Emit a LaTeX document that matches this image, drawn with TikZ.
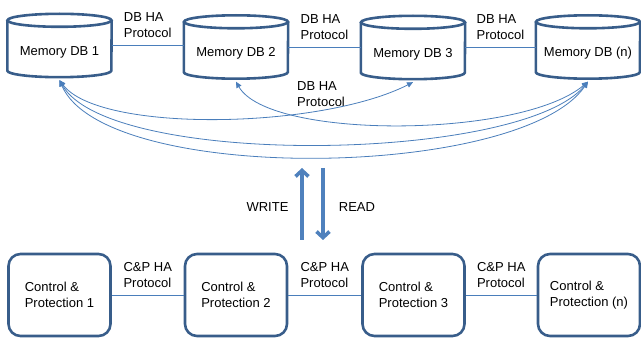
\documentclass[tikz,border=0pt]{standalone}
\usepackage{fontspec}
\setmainfont{Liberation Sans}
\usetikzlibrary{arrows.meta}

\definecolor{dbborder}{HTML}{385D8A}
\definecolor{halink}{HTML}{4A7EBB}
\definecolor{rwarrow}{HTML}{4F81BD}

\tikzset{
  txt/.style={font=\fontsize{13}{16}\selectfont},
  memdb/.style={txt, rectangle, minimum width=104pt, minimum height=63pt, inner sep=0pt,
    text height=23pt, text depth=3pt},
  dbedge/.style={draw=dbborder, line width=2.6pt},
  cpbox/.style={txt, rectangle, rounded corners=12pt, draw=dbborder, line width=2.6pt,
    minimum width=102pt, minimum height=82pt, align=left, inner sep=0pt},
  halabel/.style={txt, align=left, inner sep=1pt},
  halink/.style={draw=halink, line width=0.8pt},
  dbsync/.style={halink, line width=0.8pt, {Triangle[length=6pt,width=5.5pt]}-{Triangle[length=6pt,width=5.5pt]}},
  rwflow/.style={rwarrow, line width=3.6pt, line join=round, -{Straight Barb[length=6pt,width=13pt]}}
}

\begin{document}
\begin{tikzpicture}[x=1pt,y=1pt]
\useasboundingbox (0,0) rectangle (641,338);

% memory databases
\node[memdb] (db1) at (59.5,292.5) {Memory DB 1};
\node[memdb] (db2) at (236,291) {Memory DB 2};
\node[memdb] (db3) at (413,290.5) {Memory DB 3};
\node[memdb] (dbn) at (588,291) {Memory DB (n)};

\foreach \db in {db1,db2,db3,dbn}{
  \draw[dbedge] ([yshift=-6.5pt]\db.north west) -- ([yshift=6.5pt]\db.south west)
    arc[start angle=180, end angle=360, x radius=52pt, y radius=6.5pt]
    -- ([yshift=-6.5pt]\db.north east);
  \draw[dbedge] ([yshift=-6.5pt]\db.north) ellipse [x radius=52pt, y radius=6.5pt];
}

\draw[halink] (db1) -- node[halabel, above=6pt] {DB HA\\Protocol} (db1 -| db2.west);
\draw[halink] (db2) -- node[halabel, above=6pt] {DB HA\\Protocol} (db2 -| db3.west);
\draw[halink] (db3) -- node[halabel, above=6pt] {DB HA\\Protocol} (db3 -| dbn.west);

\node[halabel, anchor=north west] (hamid) at (296,258) {DB HA\\Protocol};

\draw[dbsync] ([yshift=-3pt]db1.south) .. controls +(40,-53) and +(-92,-47) .. ([yshift=-3pt]db3.south);
\draw[dbsync] ([yshift=-3pt]db2.south) .. controls +(33,-58) and +(-68,-57) .. ([yshift=-3pt]dbn.south);
\draw[dbsync] ([yshift=-3pt]db1.south) .. controls +(50,-88) and +(-68,-81) .. ([yshift=-3pt]dbn.south);
\draw[dbsync] ([yshift=-3pt]db1.south) .. controls +(45,-105) and +(-68,-98) .. ([yshift=-3pt]dbn.south);

% write / read
\node[txt] (write) at (267.5,131) {WRITE};
\node[txt] (read) at (357,131) {READ};
\coordinate (wrlow) at (302,98);
\coordinate (wrhigh) at (302,170);
\coordinate (rdhigh) at (323,170);
\coordinate (rdlow) at (323,98);
\draw[rwflow] (wrlow) -- (wrhigh);
\draw[rwflow] (rdhigh) -- (rdlow);

% control and protection
\node[cpbox] (cp1) at (59.5,43) {Control \&\\Protection 1};
\node[cpbox] (cp2) at (236,43) {Control \&\\Protection 2};
\node[cpbox] (cp3) at (413.5,43) {Control \&\\Protection 3};
\node[cpbox] (cpn) at (589,43) {Control \&\\Protection (n)};

\draw[halink] (cp1) -- node[halabel, above=6pt] {C\&P HA\\Protocol} (cp2);
\draw[halink] (cp2) -- node[halabel, above=6pt] {C\&P HA\\Protocol} (cp3);
\draw[halink] (cp3) -- node[halabel, above=6pt] {C\&P HA\\Protocol} (cpn);
\end{tikzpicture}
\end{document}
